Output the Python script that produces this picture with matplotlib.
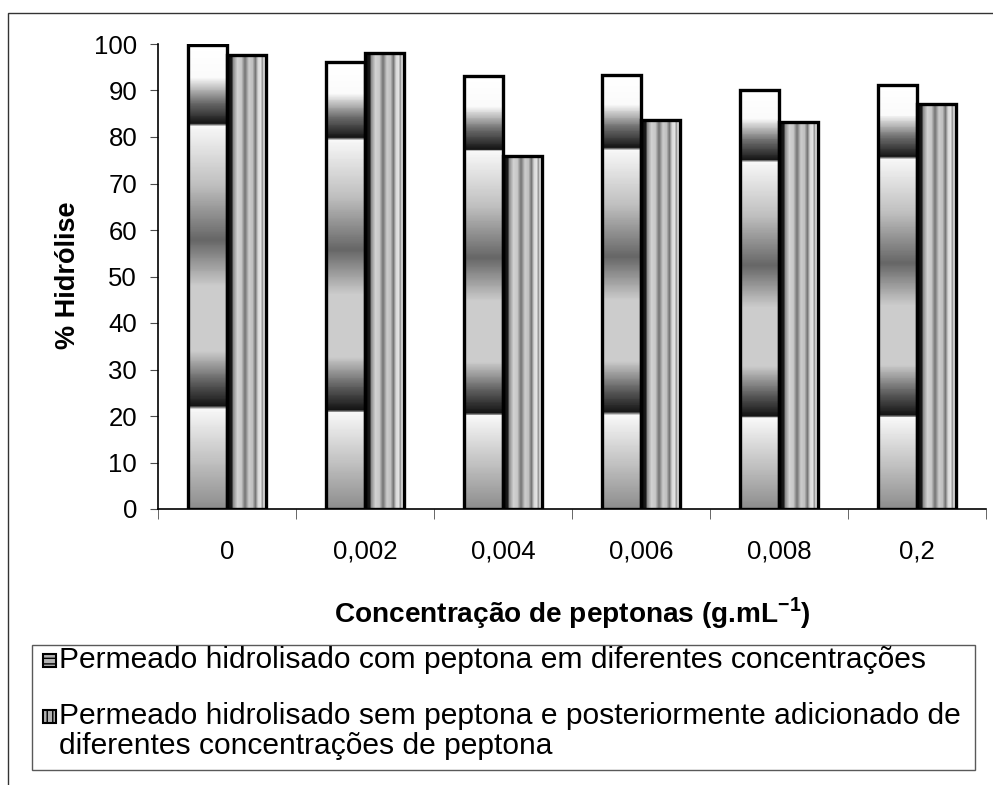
import numpy as np
import matplotlib
matplotlib.use("Agg")
import matplotlib.pyplot as plt
from matplotlib.patches import Rectangle

plt.rcParams['font.family'] = ['Liberation Sans', 'DejaVu Sans']
plt.rcParams['mathtext.fontset'] = 'custom'
plt.rcParams['mathtext.bf'] = 'Liberation Sans:bold'
plt.rcParams['mathtext.rm'] = 'Liberation Sans'

# data
categories = ["0", "0,002", "0,004", "0,006", "0,008", "0,2"]
com_peptona = [99.7, 96.1, 93.1, 93.4, 90.2, 91.1]
sem_peptona = [97.6, 98.1, 75.9, 83.7, 83.2, 87.1]
legend_lines = [
    ["Permeado hidrolisado com peptona em diferentes concentrações"],
    ["Permeado hidrolisado sem peptona e posteriormente adicionado de",
     "diferentes concentrações de peptona"],
]

# gray stops for the Excel-like gradient fills (position, gray level)
band_stops = [(0.0, 0.55), (0.10, 0.75), (0.215, 0.97), (0.222, 0.08), (0.27, 0.35),
              (0.34, 0.80), (0.48, 0.80), (0.58, 0.40), (0.70, 0.75), (0.826, 0.97),
              (0.832, 0.08), (0.88, 0.45), (0.93, 0.98), (1.0, 1.0)]
stripe_stops = [(0.0, 0.05), (0.12, 0.10), (0.16, 0.55), (0.26, 0.82), (0.36, 0.78),
                (0.45, 0.45), (0.55, 0.80), (0.64, 0.75), (0.71, 0.45), (0.78, 0.85),
                (0.85, 0.90), (0.88, 0.55), (0.93, 0.92), (1.0, 0.90)]


def ramp(stops, n=500):
    p, g = zip(*stops)
    return np.interp(np.linspace(0, 1, n), p, g)


fig = plt.figure(figsize=(9.93, 7.85), dpi=100)
ax = fig.add_axes([158 / 993, 1 - 509 / 785, 828 / 993, 465 / 785])

x = np.arange(len(categories))
w = 0.286
band = ramp(band_stops)[:, None]
stripe = ramp(stripe_stops)[None, :]

for xi, v in zip(x - w / 2, com_peptona):
    ax.imshow(band, extent=(xi - w / 2, xi + w / 2, 0, v), origin='lower', aspect='auto',
              cmap='gray', vmin=0, vmax=1, interpolation='nearest', zorder=2)
for xi, v in zip(x + w / 2, sem_peptona):
    ax.imshow(stripe, extent=(xi - w / 2, xi + w / 2, 0, v), origin='lower', aspect='auto',
              cmap='gray', vmin=0, vmax=1, interpolation='nearest', zorder=2)
ax.bar(x - w / 2, com_peptona, w, fill=False, edgecolor='black', linewidth=2.4, zorder=3)
ax.bar(x + w / 2, sem_peptona, w, fill=False, edgecolor='black', linewidth=2.4, zorder=3)

ax.set_xlim(-0.5, len(categories) - 0.5)
ax.set_ylim(0, 100)
ax.set_yticks(range(0, 101, 10))
ax.set_xticks(x)
ax.set_xticklabels(categories)
ax.set_xticks(np.arange(-0.5, len(categories)), minor=True)
ax.tick_params(axis='x', which='major', length=0, pad=22, labelsize=18.5)
ax.tick_params(axis='x', which='minor', length=7, direction='out', color='0.3')
ax.tick_params(axis='y', length=6, direction='out', color='0.3', pad=9, labelsize=18.5)
for s in ['top', 'right']:
    ax.spines[s].set_visible(False)
for s in ['left', 'bottom']:
    ax.spines[s].set_linewidth(1.2)

fig.text(68 / 993, 1 - 275 / 785, "% Hidrólise", rotation=90, fontsize=19.5,
         fontweight='bold', ha='center', va='center')
fig.text(572 / 993, 1 - 613 / 785, r"Concentração de peptonas (g.mL$^{\mathbf{-1}}$)",
         fontsize=20.2, fontweight='bold', ha='center', va='center')

# chart-area border (cut off on the right and bottom)
fig.patches.append(Rectangle((8 / 993, -0.05), 1.1, 1 - 13 / 785 + 0.05,
                             transform=fig.transFigure, fill=False,
                             edgecolor='0.2', linewidth=1))

# legend box
fig.patches.append(Rectangle((32 / 993, 1 - 770 / 785), (975 - 32) / 993, 125 / 785,
                             transform=fig.transFigure, fill=False,
                             edgecolor='0.35', linewidth=1))
icon_w, icon_h = 13 / 993, 13 / 785
for (ty, hatch), lines in zip([(660, '---'), (716, '|||')], legend_lines):
    fig.patches.append(Rectangle((43 / 993, 1 - (ty + 6.5) / 785), icon_w, icon_h,
                                 transform=fig.transFigure, facecolor='0.7',
                                 edgecolor='black', linewidth=1.5, hatch=hatch))
    for k, line in enumerate(lines):
        fig.text(59 / 993, 1 - (ty + 30 * k) / 785, line, fontsize=21.6, va='center', ha='left')

fig.savefig("out.png", dpi=100)
